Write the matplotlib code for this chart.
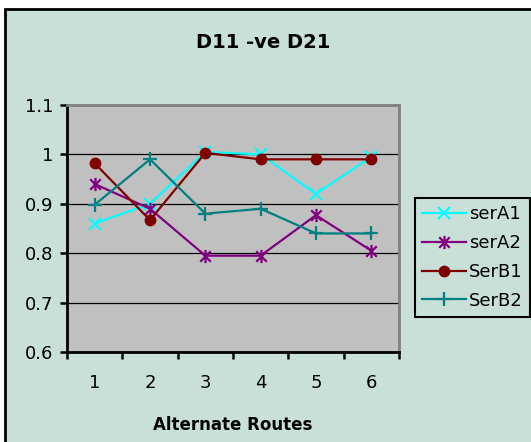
import matplotlib
matplotlib.use('Agg')
from matplotlib import pyplot as plt
from matplotlib.path import Path
from matplotlib.patches import Rectangle

routes = [1, 2, 3, 4, 5, 6]
serA1 = [0.86, 0.90, 1.005, 1.00, 0.92, 0.995]
serA2 = [0.94, 0.89, 0.795, 0.795, 0.877, 0.805]
serB1 = [0.982, 0.867, 1.003, 0.99, 0.99, 0.99]
serB2 = [0.898, 0.99, 0.88, 0.89, 0.84, 0.84]

bg = '#C9E0D8'
plt.rcParams['font.family'] = ['DejaVu Sans']
plt.rcParams['font.size'] = 13

# Excel-style star marker: an x crossed by a vertical bar
star = Path([(-1, -1), (1, 1), (-1, 1), (1, -1), (0, -1.25), (0, 1.25)],
            [Path.MOVETO, Path.LINETO, Path.MOVETO, Path.LINETO, Path.MOVETO, Path.LINETO])

fig = plt.figure(figsize=(5.31, 4.42), dpi=100)
fig.patch.set_facecolor('white')
W, H = 531.0, 442.0
fig.patches.append(Rectangle((5 / W, -0.05), 1.0, 1 - 8.5 / H + 0.05, transform=fig.transFigure,
                             facecolor=bg, edgecolor='black', linewidth=2, zorder=-5))

ax = fig.add_axes([67 / W, 1 - 352 / H, 332 / W, 247 / H])
ax.set_facecolor('#C0C0C0')

ax.plot(routes, serA1, color='#00FFFF', lw=1.6, marker='x', ms=9, mew=1.6, label='serA1', zorder=3)
ax.plot(routes, serA2, color='#800080', lw=1.6, marker=star, ms=9.5, mew=1.6, mfc='none', label='serA2', zorder=3)
ax.plot(routes, serB1, color='#800000', lw=1.6, marker='o', ms=7.5, label='SerB1', zorder=3)
ax.plot(routes, serB2, color='#008080', lw=1.6, marker='+', ms=10, mew=1.6, label='SerB2', zorder=3)

ax.set_xlim(0.5, 6.5)
ax.set_ylim(0.6, 1.1)
ax.set_yticks([0.6, 0.7, 0.8, 0.9, 1.0, 1.1])
ax.set_yticklabels(['0.6', '0.7', '0.8', '0.9', '1', '1.1'])
for y in [0.7, 0.8, 0.9, 1.0]:
    ax.axhline(y, color='black', lw=0.9, zorder=1)

ax.set_xticks([r - 0.5 for r in routes] + [6.5])
ax.set_xticklabels([])
ax.set_xticks(routes, minor=True)
ax.set_xticklabels([str(r) for r in routes], minor=True)
ax.tick_params(axis='x', which='major', direction='out', length=5, width=1.8)
ax.tick_params(axis='x', which='minor', length=0, pad=16)
ax.tick_params(axis='y', direction='out', length=5, width=1.8, pad=5)

for side in ['left', 'bottom']:
    ax.spines[side].set_color('black')
    ax.spines[side].set_linewidth(2)
for side in ['top', 'right']:
    ax.spines[side].set_color('#808080')
    ax.spines[side].set_linewidth(2)

ax.set_xlabel('Alternate Routes', fontweight='bold', fontsize=12, labelpad=17)
fig.text(263 / W, 1 - 42 / H, 'D11 -ve D21', ha='center', va='center',
         fontsize=14, fontweight='bold')

leg = fig.legend(loc='upper left', bbox_to_anchor=(415 / W, 1 - 198 / H),
                 frameon=True, fancybox=False, facecolor=bg, edgecolor='black',
                 handlelength=2.4, handletextpad=0.2, labelspacing=0.6,
                 borderpad=0.4, borderaxespad=0, framealpha=1)
leg.get_frame().set_linewidth(1.5)

fig.savefig('out.png', dpi=100)
